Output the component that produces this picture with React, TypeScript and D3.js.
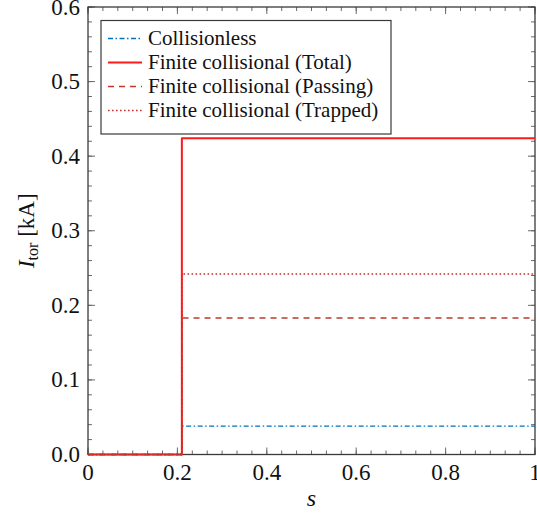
import React from "react";
import * as d3 from "d3";

// Radial coordinate samples (step profile at s ≈ 0.21)
const sValues = [0, 0.21, 0.21, 1.0];

// Toroidal current [kA] for each model
const collisionless = [0, 0, 0.038, 0.038];
const totalCollisional = [0, 0, 0.424, 0.424];
const passingCollisional = [0, 0, 0.183, 0.183];
const trappedCollisional = [0, 0, 0.242, 0.242];

const xTicks = [0, 0.2, 0.4, 0.6, 0.8, 1];
const xTickLabels = ["0", "0.2", "0.4", "0.6", "0.8", "1"];
const yTicks = [0, 0.1, 0.2, 0.3, 0.4, 0.5, 0.6];
const yTickLabels = ["0.0", "0.1", "0.2", "0.3", "0.4", "0.5", "0.6"];

const seriesNames = [
  "Collisionless",
  "Finite collisional (Total)",
  "Finite collisional (Passing)",
  "Finite collisional (Trapped)",
];

const W = 537;
const H = 519;
const left = 88;
const right = 535;
const top = 7;
const bottom = 454.5;
const FONT = "Liberation Serif, Times New Roman, DejaVu Serif, serif";

export default function App() {
  const x = d3.scaleLinear().domain([0, 1]).range([left, right]);
  const y = d3.scaleLinear().domain([0, 0.6]).range([bottom, top]);

  const styles = [
    { data: collisionless, color: "#0072bd", width: 1.4, dash: "5,2.5,1.5,2.5" },
    { data: totalCollisional, color: "#ff1a1a", width: 2, dash: undefined },
    { data: passingCollisional, color: "#c0392b", width: 1.6, dash: "6,5" },
    { data: trappedCollisional, color: "#c8302a", width: 1.6, dash: "1.6,2.4" },
  ];

  const line = (vals: number[]) =>
    d3
      .line<number>()
      .x((_, i) => x(sValues[i]))
      .y((v) => y(v))(vals) || "";

  // minor ticks: 5 per x interval, 4 per y interval
  const xMinor = d3.range(0, 31).map((i) => i / 30);
  const yMinor = d3.range(0, 31).map((i) => (i * 0.6) / 30);

  const tickColor = "#6a6a6a";
  const legX = 101;
  const legY = 20.5;
  const legW = 290;
  const legH = 113.5;
  const textStyle = { fontFamily: FONT };

  return (
    <svg width={W} height={H} style={{ position: "absolute", left: 0, top: 0 }}>
      <rect width={W} height={H} fill="#fff" />

      {/* minor and major ticks on all four sides, pointing inward */}
      <g stroke={tickColor} strokeWidth={1}>
        {xMinor.map((t, i) => (
          <g key={"xm" + i}>
            <line x1={x(t)} x2={x(t)} y1={bottom} y2={bottom - 4} />
            <line x1={x(t)} x2={x(t)} y1={top} y2={top + 4} />
          </g>
        ))}
        {yMinor.map((t, i) => (
          <g key={"ym" + i}>
            <line x1={left} x2={left + 4} y1={y(t)} y2={y(t)} />
            <line x1={right} x2={right - 4} y1={y(t)} y2={y(t)} />
          </g>
        ))}
        {xTicks.map((t, i) => (
          <g key={"xM" + i}>
            <line x1={x(t)} x2={x(t)} y1={bottom} y2={bottom - 7} />
            <line x1={x(t)} x2={x(t)} y1={top} y2={top + 7} />
          </g>
        ))}
        {yTicks.map((t, i) => (
          <g key={"yM" + i}>
            <line x1={left} x2={left + 7} y1={y(t)} y2={y(t)} />
            <line x1={right} x2={right - 7} y1={y(t)} y2={y(t)} />
          </g>
        ))}
      </g>

      {/* frame */}
      <rect
        x={left}
        y={top}
        width={right - left}
        height={bottom - top}
        fill="none"
        stroke="#3a3a3a"
        strokeWidth={1.3}
      />

      {/* data curves */}
      <g fill="none">
        {styles.map((s, i) => (
          <path
            key={i}
            d={line(s.data)}
            stroke={s.color}
            strokeWidth={s.width}
            strokeDasharray={s.dash}
            strokeLinejoin="round"
          />
        ))}
      </g>

      {/* tick labels */}
      <g fontSize={23} fill="#111">
        {xTicks.map((t, i) => (
          <text key={"xl" + i} x={x(t)} y={480} textAnchor="middle" style={textStyle}>
            {xTickLabels[i]}
          </text>
        ))}
        {yTicks.map((t, i) => (
          <text key={"yl" + i} x={80} y={y(t) + 7.5} textAnchor="end" style={textStyle}>
            {yTickLabels[i]}
          </text>
        ))}
      </g>

      {/* axis titles */}
      <text
        x={(left + right) / 2}
        y={506}
        textAnchor="middle"
        style={textStyle}
        fontSize={24}
        fontStyle="italic"
        fill="#111"
      >
        s
      </text>
      <text
        transform={`translate(34, ${(top + bottom) / 2}) rotate(-90)`}
        textAnchor="middle"
        style={textStyle}
        fontSize={23}
        fill="#111"
      >
        <tspan fontStyle="italic">I</tspan>
        <tspan fontSize={16} dy={4}>tor</tspan>
        <tspan dy={-4}> [kA]</tspan>
      </text>

      {/* legend */}
      <rect
        x={legX}
        y={legY}
        width={legW}
        height={legH}
        fill="#fff"
        stroke="#3a3a3a"
        strokeWidth={1.2}
      />
      {styles.map((s, i) => {
        const cy = legY + 18 + i * 24;
        return (
          <g key={"leg" + i}>
            <line
              x1={legX + 7}
              x2={legX + 41}
              y1={cy}
              y2={cy}
              stroke={s.color}
              strokeWidth={s.width}
              strokeDasharray={s.dash}
            />
            <text
              x={legX + 47}
              y={cy + 6.8}
              style={textStyle}
              fontSize={21}
              fill="#111"
            >
              {seriesNames[i]}
            </text>
          </g>
        );
      })}
    </svg>
  );
}
